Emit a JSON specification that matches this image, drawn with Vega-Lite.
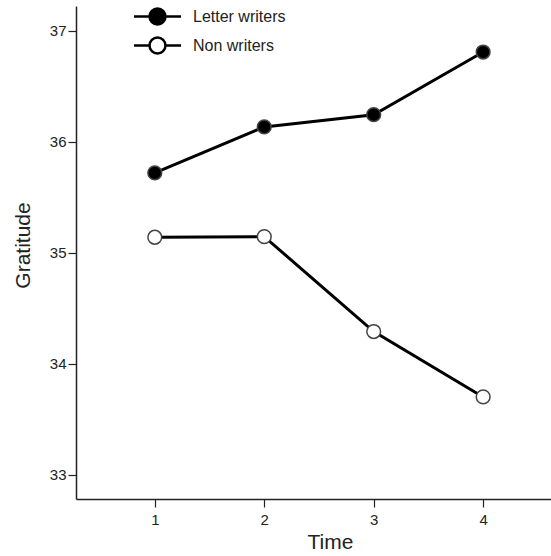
{
  "$schema": "https://vega.github.io/schema/vega-lite/v6.json",
  "width": 475,
  "height": 493,
  "autosize": {"type": "none"},
  "padding": {"left": 76, "top": 6, "right": 0, "bottom": 57},
  "config": {
    "view": {"stroke": null},
    "font": "Liberation Sans",
    "axis": {
      "grid": false,
      "domainColor": "#222",
      "tickColor": "#222",
      "labelColor": "#222",
      "titleColor": "#222",
      "domainWidth": 1.5,
      "tickWidth": 1.2,
      "tickSize": 8
    }
  },
  "data": {
    "values": [
      {"group": "Letter writers", "time": 1, "gratitude": 35.72},
      {"group": "Letter writers", "time": 2, "gratitude": 36.135},
      {"group": "Letter writers", "time": 3, "gratitude": 36.245},
      {"group": "Letter writers", "time": 4, "gratitude": 36.81},
      {"group": "Non writers", "time": 1, "gratitude": 35.14},
      {"group": "Non writers", "time": 2, "gratitude": 35.145},
      {"group": "Non writers", "time": 3, "gratitude": 34.29},
      {"group": "Non writers", "time": 4, "gratitude": 33.7}
    ]
  },
  "encoding": {
    "x": {
      "field": "time",
      "type": "quantitative",
      "scale": {"domain": [0.28, 4.62], "nice": false, "zero": false},
      "axis": {"values": [1, 2, 3, 4], "title": "Time", "labelFontSize": 15, "titleFontSize": 21, "titleFontWeight": "normal", "labelPadding": 5, "titlePadding": 4, "titleX": 254}
    },
    "y": {
      "field": "gratitude",
      "type": "quantitative",
      "scale": {"domain": [32.78, 37.225], "nice": false, "zero": false},
      "axis": {"values": [33, 34, 35, 36, 37], "title": "Gratitude", "labelFontSize": 15, "titleFontSize": 21, "titleFontWeight": "normal", "labelPadding": 2, "titlePadding": 16, "titleY": 239}
    }
  },
  "layer": [
    {
      "mark": {"type": "line", "strokeWidth": 3, "color": "black"},
      "encoding": {"detail": {"field": "group", "type": "nominal"}}
    },
    {
      "mark": {"type": "circle", "size": 190, "opacity": 1, "stroke": "#444", "strokeWidth": 1.5},
      "encoding": {
        "fill": {
          "field": "group",
          "type": "nominal",
          "scale": {"domain": ["Letter writers", "Non writers"], "range": ["black", "white"]},
          "legend": {
            "title": null,
            "orient": "none",
            "legendX": 72,
            "legendY": 1,
            "padding": 0,
            "symbolType": "M-2.94,0H-1M1,0H2.94M-1,0A1,1 0 1,0 1,0A1,1 0 1,0 -1,0Z",
            "symbolSize": 256,
            "symbolStrokeWidth": 2.5,
            "symbolStrokeColor": "black",
            "symbolOpacity": 1,
            "labelFontSize": 16,
            "labelColor": "#222",
            "labelOffset": 26,
            "rowPadding": 2
          }
        }
      }
    }
  ]
}
